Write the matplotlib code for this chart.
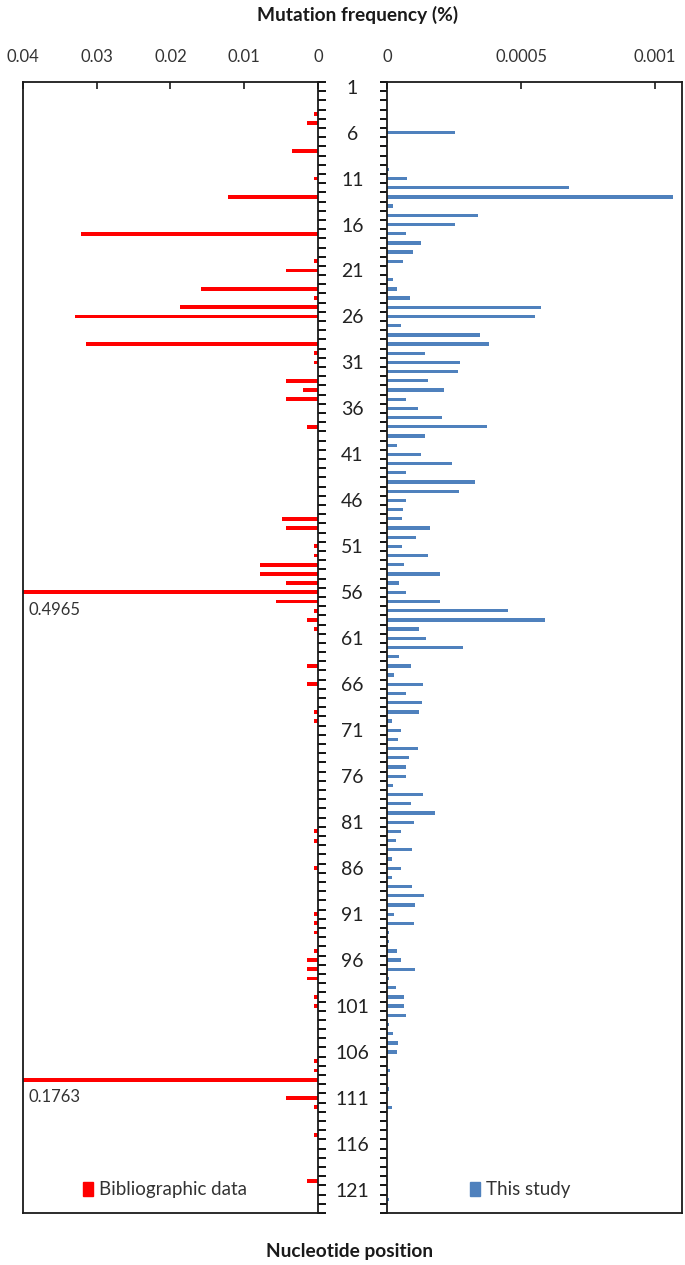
import numpy as np
import matplotlib.pyplot as plt
from matplotlib.patches import Patch

plt.rcParams['font.family'] = ['Lato', 'DejaVu Sans']

# Bibliographic data (red, left panel): position -> frequency
bib_pos = [4, 5, 8, 11, 13, 17, 20, 21, 23, 24, 25, 26, 29, 30, 31, 33, 34, 35, 38,
           48, 49, 51, 52, 53, 54, 55, 56, 57, 58, 59, 60, 64, 66, 69, 70, 82, 83, 86,
           91, 92, 93, 95, 96, 97, 98, 100, 101, 107, 108, 109, 111, 112, 115, 120]
bib_val = [0.0006, 0.00145, 0.0035, 0.0005, 0.0122, 0.0322, 0.0005, 0.0043, 0.0158, 0.0005,
           0.0187, 0.0329, 0.0315, 0.0005, 0.0005, 0.0043, 0.002, 0.0043, 0.00145,
           0.0049, 0.0043, 0.0005, 0.0005, 0.0078, 0.0078, 0.0043, 0.4965, 0.0057, 0.0005,
           0.00145, 0.0005, 0.00145, 0.00145, 0.0005, 0.0005, 0.0005, 0.0005, 0.0005,
           0.0005, 0.0005, 0.0005, 0.0005, 0.00145, 0.00145, 0.00145, 0.0005, 0.0005,
           0.0005, 0.0005, 0.1763, 0.0043, 0.0005, 0.0005, 0.00145]

# This study (blue, right panel): positions 1..123
study_val = [
    0, 0, 0, 0, 0, 0.000255, 0.000005, 0, 0, 0.000009,
    0.000075, 0.000678, 0.001067, 0.000024, 0.000338, 0.000255, 0.000069, 0.000127, 0.000096, 0.000061,
    0, 0.000024, 0.000036, 0.000085, 0.000575, 0.000553, 0.000054, 0.000346, 0.000381, 0.000141,
    0.000272, 0.000266, 0.000152, 0.000214, 0.000071, 0.000117, 0.000204, 0.000373, 0.000141, 0.000036,
    0.000127, 0.000241, 0.000069, 0.000328, 0.00027, 0.000069, 0.000061, 0.000057, 0.000159, 0.00011,
    0.000057, 0.000152, 0.000065, 0.000197, 0.000044, 0.000069, 0.000197, 0.000453, 0.000588, 0.000119,
    0.000144, 0.000282, 0.000044, 0.000088, 0.000026, 0.000134, 0.000069, 0.00013, 0.000119, 0.000019,
    0.000054, 0.000041, 0.000117, 0.000082, 0.000072, 0.000072, 0.000024, 0.000134, 0.000088, 0.000179,
    0.0001, 0.000054, 0.000034, 0.000093, 0.000019, 0.000051, 0.000019, 0.000093, 0.000137, 0.000106,
    0.000026, 0.000102, 0.000009, 0.000009, 0.000036, 0.000051, 0.000106, 0.000009, 0.000034, 0.000065,
    0.000065, 0.000072, 0.000009, 0.000024, 0.000041, 0.000036, 0.000005, 0.000012, 0, 0.000009,
    0, 0.000019, 0, 0.000005, 0, 0, 0, 0, 0, 0.000004,
    0.000004, 0.000009, 0,
]
study_pos = np.arange(1, len(study_val) + 1)

left_ticks = [0.04, 0.03, 0.02, 0.01, 0]
right_ticks = [0, 0.0005, 0.001]
right_tick_labels = ['0', '0.0005', '0.001']
label_pos = list(range(1, 122, 5))

red = '#ff0000'
blue = '#4f81bd'
n = len(study_val)

fig = plt.figure(figsize=(6.85, 12.65), dpi=100)
axL = fig.add_axes([23 / 685, 1 - 1213 / 1265, 295 / 685, 1131 / 1265])
axR = fig.add_axes([387 / 685, 1 - 1213 / 1265, 295 / 685, 1131 / 1265])

axL.barh(bib_pos, bib_val, height=0.42, color=red)
axR.barh(study_pos, study_val, height=0.36, color=blue)

for ax in (axL, axR):
    ax.set_ylim(n + 0.5, 0.5)
    for s in ax.spines.values():
        s.set_linewidth(1.3)
        s.set_color('#1a1a1a')
    ax.xaxis.tick_top()
    ax.tick_params(axis='x', direction='in', length=5, width=1.2, labelsize=12,
                   pad=12, colors='#1a1a1a', labelcolor='#333333')

axL.set_xlim(0.04, 0)
axL.set_xticks(left_ticks)
axL.set_xticklabels(['0.04', '0.03', '0.02', '0.01', '0'])
axR.set_xlim(0, 0.0011)
axR.set_xticks(right_ticks)
axR.set_xticklabels(right_tick_labels)

# category boundary ticks on the inner sides
bounds = np.arange(0.5, n + 1, 1)
axL.yaxis.tick_right()
axL.set_yticks([])
axL.set_yticks(bounds, minor=True)
axL.tick_params(axis='y', which='minor', direction='out', length=6, width=1.3)

axR.set_yticks(label_pos)
axR.set_yticklabels([str(p) for p in label_pos])
axR.set_yticks(bounds, minor=True)
axR.tick_params(axis='y', which='minor', direction='out', length=5, width=1.3)
axR.tick_params(axis='y', which='major', length=0, pad=25, labelsize=14, labelcolor='#222222')
for t in axR.get_yticklabels():
    t.set_horizontalalignment('center')

axL.text(0.0392, 57.9, '0.4965', fontsize=12, color='#333333', ha='left', va='center')
axL.text(0.0392, 110.9, '0.1763', fontsize=12, color='#333333', ha='left', va='center')

axL.legend(handles=[Patch(color=red, label='Bibliographic data')], loc='lower center',
           bbox_to_anchor=(0.48, -0.002), frameon=False, fontsize=13.5, handlelength=0.55,
           handleheight=0.75, handletextpad=0.3, labelcolor='#333333')
axR.legend(handles=[Patch(color=blue, label='This study')], loc='lower center',
           bbox_to_anchor=(0.45, -0.002), frameon=False, fontsize=13.5, handlelength=0.55,
           handleheight=0.75, handletextpad=0.3, labelcolor='#333333')

fig.text(358 / 685, 1 - 15 / 1265, 'Mutation frequency (%)', ha='center', va='center',
         fontsize=13.8, fontweight='bold', color='#1a1a1a')
fig.text(350 / 685, 1 - 1252 / 1265, 'Nucleotide position', ha='center', va='center',
         fontsize=13.8, fontweight='bold', color='#1a1a1a')

fig.savefig('out.png', dpi=100, facecolor='white')
